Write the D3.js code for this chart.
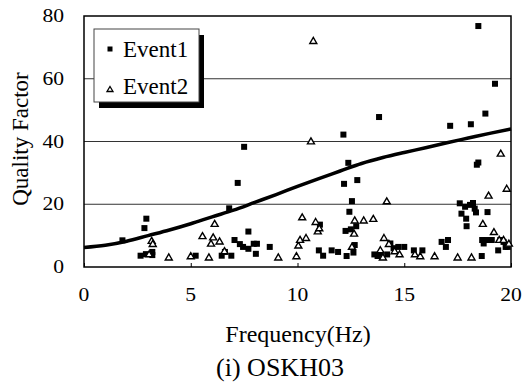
<!DOCTYPE html>
<html>
<head>
<meta charset="utf-8">
<script src="https://cdn.jsdelivr.net/npm/d3@7"></script>
<style>
  body { margin: 0; background: #fff; }
</style>
</head>
<body>
<div id="chart"></div>
<script>
// Event1 points [frequency Hz, quality factor]
const event1 = [
  [1.8,8.5],[2.65,3.6],[2.83,12.4],[2.92,15.4],[2.9,4.1],[3.2,3.8],[3.2,4.8],
  [5.23,3.6],[6.45,3.6],[6.6,4.8],[6.9,3.6],[6.8,18.7],[7.05,8.6],[7.2,26.8],
  [7.3,7.3],[7.45,6.4],[7.5,38.3],[7.7,11.3],[7.7,5.8],[7.95,7.4],[8.1,7.4],
  [8.05,4.2],[8.7,6.4],
  [11.0,5.3],[11.05,13.5],[11.2,3.6],[11.6,5.3],[11.9,4.8],
  [12.15,42.2],[12.18,26.5],[12.25,11.5],[12.3,3.5],[12.38,33.2],[12.43,17.6],
  [12.5,12.0],[12.55,21.0],[12.62,4.6],[12.68,7.0],[12.75,13.0],[12.8,27.7],
  [13.82,47.8],[13.6,4.0],[13.75,3.5],[13.9,4.2],[14.2,4.0],[14.35,7.5],
  [14.5,6.0],[14.72,6.4],[15.0,6.4],[15.45,5.3],[15.85,5.3],
  [16.75,8.0],[16.95,6.4],[17.05,8.6],[17.15,45.0],[17.6,20.3],[17.68,17.0],
  [17.85,19.2],[17.9,15.4],[17.92,13.0],[18.08,19.8],[18.12,45.5],[18.22,20.4],
  [18.3,18.6],[18.36,17.4],[18.4,32.6],[18.47,33.3],[18.47,76.8],[18.63,3.5],
  [18.65,8.6],[18.72,7.5],[18.8,48.9],[18.86,8.6],[18.9,17.5],[19.1,8.6],
  [19.25,58.4],[19.4,5.3],[19.5,8.6],[19.65,8.0],[19.75,6.4],[19.85,6.4]
];

// Event2 points [frequency Hz, quality factor]
const event2 = [
  [3.05,4.2],[3.17,8.5],[3.22,7.5],[3.97,3.2],[5.0,3.6],[5.55,10.0],[5.85,3.2],
  [5.95,7.6],[6.05,9.6],[6.12,13.9],[6.35,8.3],[6.58,5.2],[9.1,3.2],[9.95,3.6],
  [10.04,7.0],[10.12,8.8],[10.22,16.0],[10.4,9.4],[10.63,40.2],[10.74,72.2],
  [10.85,14.5],[10.95,11.5],[11.02,12.5],
  [12.55,6.6],[12.65,10.8],[12.68,15.0],[13.1,15.0],[13.55,15.5],[13.88,5.5],
  [14.0,3.2],[14.05,9.4],[14.18,21.1],[14.28,7.5],[14.55,5.2],[14.78,4.2],
  [15.5,4.2],[15.75,3.6],[16.42,3.6],[17.5,3.2],[18.15,3.2],[18.68,13.9],
  [18.95,22.9],[19.2,11.3],[19.45,8.8],[19.52,36.3],[19.65,8.8],[19.8,25.1],
  [19.9,7.6]
];

// fitted curve, read at each Hz
const curveFreq = [0,1,2,3,4,5,6,7,8,9,10,11,12,13,14,15,16,17,18,19,20];
const curveQ = [6.2,6.9,8.2,10.0,11.8,13.8,16.0,18.1,20.6,23.1,25.7,28.2,30.6,33.0,34.9,36.5,38.0,39.6,41.1,42.6,44.0];

const xTicks = [0,5,10,15,20];
const yTicks = [0,20,40,60,80];
const gridLines = [20,40,60];

const W = 526, H = 383;
const plotLeft = 84, plotRight = 511, plotTop = 16, plotBottom = 267;
const serif = "Liberation Serif";

const svg = d3.select("#chart").append("svg")
  .attr("width", W).attr("height", H)
  .attr("font-family", serif);
svg.append("rect").attr("width", W).attr("height", H).attr("fill", "#fff");

const x = d3.scaleLinear().domain([0, 20]).range([plotLeft, plotRight]);
const y = d3.scaleLinear().domain([0, 80]).range([plotBottom, plotTop]);

// grid lines
svg.append("g").selectAll("line").data(gridLines).enter().append("line")
  .attr("x1", plotLeft).attr("x2", plotRight)
  .attr("y1", d => y(d)).attr("y2", d => y(d))
  .attr("stroke", "#333").attr("stroke-width", 1);

// bottom axis: small ticks pointing inward
const xAxis = svg.append("g")
  .attr("transform", "translate(0," + plotBottom + ")")
  .call(d3.axisBottom(x).tickValues(xTicks).tickSize(-4).tickFormat(""));
xAxis.select(".domain").remove();
xAxis.selectAll("line").attr("stroke", "#000");

// tick labels (original digits are drawn wide, so stretch them a bit)
svg.append("g").selectAll("text").data(xTicks).enter().append("text")
  .attr("transform", d => "translate(" + x(d) + ",301) scale(1.2,1)")
  .attr("text-anchor", "middle").attr("font-family", serif)
  .style("font-size", "18px")
  .text(d => d);
svg.append("g").selectAll("text").data(yTicks).enter().append("text")
  .attr("transform", d => "translate(64," + (y(d) + 6) + ") scale(1.2,1)")
  .attr("text-anchor", "end").attr("font-family", serif)
  .style("font-size", "18px")
  .text(d => d);

// frame
svg.append("rect")
  .attr("x", plotLeft).attr("y", plotTop)
  .attr("width", plotRight - plotLeft).attr("height", plotBottom - plotTop)
  .attr("fill", "none").attr("stroke", "#000").attr("stroke-width", 1.5);

// fitted curve
const line = d3.line()
  .x((d, i) => x(curveFreq[i]))
  .y(d => y(d))
  .curve(d3.curveMonotoneX);
svg.append("path").datum(curveQ)
  .attr("d", line)
  .attr("fill", "none").attr("stroke", "#000").attr("stroke-width", 3.5);

// Event1 squares
const sq = 6;
svg.append("g").selectAll("rect").data(event1).enter().append("rect")
  .attr("x", d => x(d[0]) - sq / 2).attr("y", d => y(d[1]) - sq / 2)
  .attr("width", sq).attr("height", sq)
  .attr("fill", "#000");

// Event2 hollow triangles
function tri(cx, cy, hw, h) {
  return "M" + cx + "," + (cy - h / 2) + "L" + (cx + hw) + "," + (cy + h / 2) +
    "L" + (cx - hw) + "," + (cy + h / 2) + "Z";
}
svg.append("g").selectAll("path").data(event2).enter().append("path")
  .attr("d", d => tri(x(d[0]), y(d[1]), 3.5, 6))
  .attr("fill", "#fff").attr("stroke", "#000").attr("stroke-width", 1.4);

// legend with drop shadow
const lg = svg.append("g");
lg.append("rect").attr("x", 99).attr("y", 35).attr("width", 105).attr("height", 73)
  .attr("fill", "#000");
lg.append("rect").attr("x", 94).attr("y", 29).attr("width", 105).attr("height", 73)
  .attr("fill", "#fff").attr("stroke", "#444").attr("stroke-width", 1);
lg.append("rect").attr("x", 107.5).attr("y", 46.5).attr("width", 5).attr("height", 5)
  .attr("fill", "#000");
lg.append("path").attr("d", tri(110, 89, 3, 5))
  .attr("fill", "#fff").attr("stroke", "#000").attr("stroke-width", 1.3);
lg.append("text").attr("x", 123).attr("y", 57).attr("font-family", serif)
  .style("font-size", "23px").text("Event1");
lg.append("text").attr("x", 123).attr("y", 94).attr("font-family", serif)
  .style("font-size", "23px").text("Event2");

// axis titles
svg.append("text")
  .attr("transform", "translate(28,139) rotate(-90)")
  .attr("text-anchor", "middle").attr("font-family", serif)
  .style("font-size", "23px")
  .text("Quality Factor");
svg.append("text")
  .attr("x", 298).attr("y", 342)
  .attr("text-anchor", "middle").attr("font-family", serif)
  .style("font-size", "24px")
  .text("Frequency(Hz)");
svg.append("text")
  .attr("x", 280).attr("y", 376)
  .attr("text-anchor", "middle").attr("font-family", serif)
  .style("font-size", "26px")
  .text("(i) OSKH03");
</script>
</body>
</html>
